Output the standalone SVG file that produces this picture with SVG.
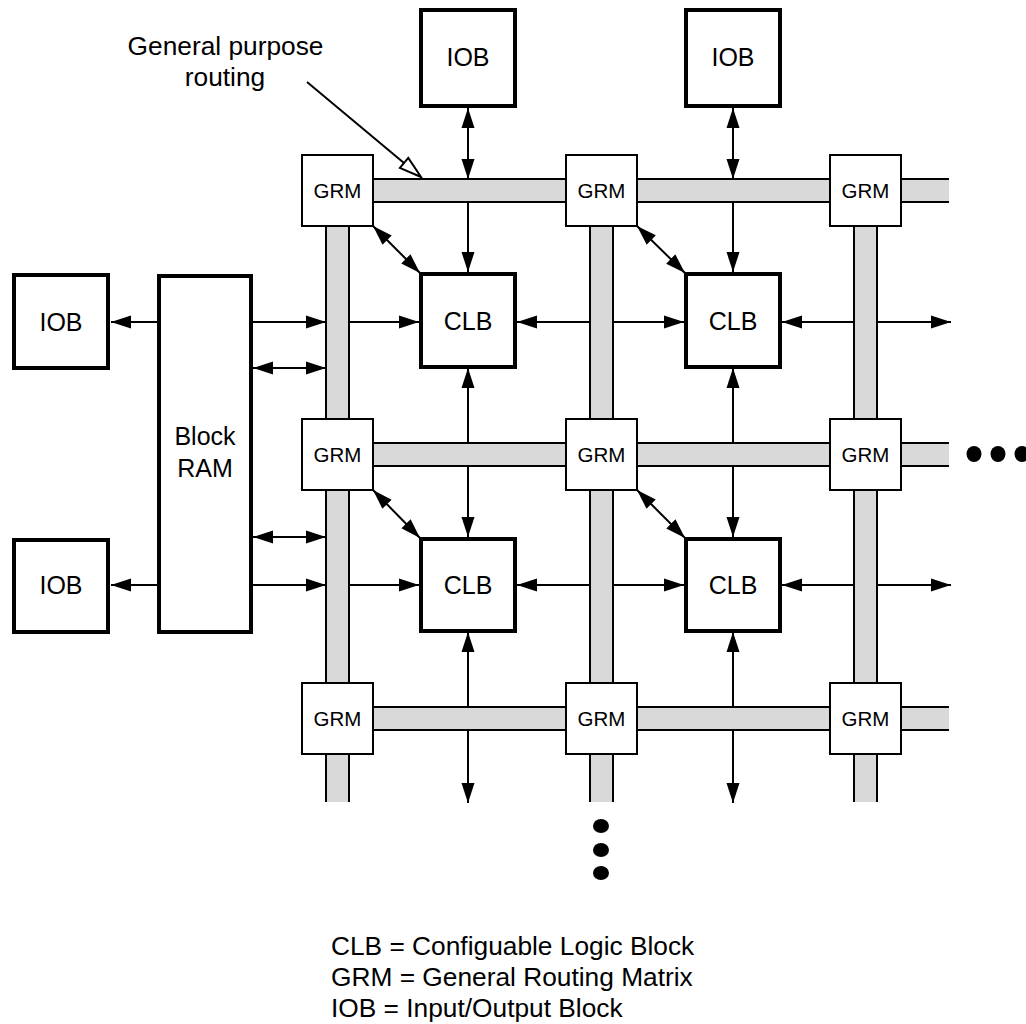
<svg xmlns="http://www.w3.org/2000/svg" width="1026" height="1024" viewBox="0 0 1026 1024">
<style>
text{font-family:"Liberation Sans",Arial,sans-serif;fill:#000}
.big{font-size:25px}
.lbl{font-size:26.3px}
.grmt{font-size:20.5px}
.thick{fill:#fff;stroke:#000;stroke-width:4}
.grm{fill:#fff;stroke:#000;stroke-width:2}
.busf{fill:#d9d9d9;stroke:none}
.busl{stroke:#000;stroke-width:2;fill:none}
.ar{stroke:#000;stroke-width:2;fill:none}
.one{marker-end:url(#ah)}
.two{marker-start:url(#ah);marker-end:url(#ah)}
</style>
<defs>
<marker id="ah" markerUnits="userSpaceOnUse" markerWidth="20" markerHeight="14" refX="20" refY="6.5" orient="auto-start-reverse" viewBox="0 0 20 13">
<path d="M0,0 L20,6.5 L0,13 Z" fill="#000"/>
</marker>
</defs>
<rect width="1026" height="1024" fill="#fff"/>

<g id="connectors">
<line class="ar two" x1="468" y1="108" x2="468" y2="179"/>
<line class="ar two" x1="733" y1="108" x2="733" y2="179"/>
<line class="ar one" x1="468" y1="202" x2="468" y2="272"/>
<line class="ar one" x1="733" y1="202" x2="733" y2="272"/>
<line class="ar two" x1="468" y1="368" x2="468" y2="537"/>
<line class="ar two" x1="733" y1="368" x2="733" y2="537"/>
<line class="ar two" x1="468" y1="632" x2="468" y2="803"/>
<line class="ar two" x1="733" y1="632" x2="733" y2="803"/>
<line class="ar one" x1="157" y1="322" x2="111" y2="322"/>
<line class="ar one" x1="253" y1="322" x2="326" y2="322"/>
<line class="ar one" x1="350" y1="322" x2="419" y2="322"/>
<line class="ar two" x1="517" y1="322" x2="684" y2="322"/>
<line class="ar two" x1="782" y1="322" x2="951" y2="322"/>
<line class="ar one" x1="157" y1="585" x2="111" y2="585"/>
<line class="ar one" x1="253" y1="585" x2="326" y2="585"/>
<line class="ar one" x1="350" y1="585" x2="419" y2="585"/>
<line class="ar two" x1="517" y1="585" x2="684" y2="585"/>
<line class="ar two" x1="782" y1="585" x2="951" y2="585"/>
<line class="ar two" x1="253" y1="368" x2="326" y2="368"/>
<line class="ar two" x1="253" y1="537" x2="326" y2="537"/>
<line class="ar two" x1="373" y1="226" x2="420" y2="273"/>
<line class="ar two" x1="637" y1="226" x2="685" y2="273"/>
<line class="ar two" x1="373" y1="490" x2="420" y2="538"/>
<line class="ar two" x1="637" y1="490" x2="685" y2="538"/>
</g>

<g id="buses">
<rect class="busf" x="337" y="179" width="612" height="23"/>
<line class="busl" x1="337" y1="179" x2="949" y2="179"/>
<line class="busl" x1="337" y1="202" x2="949" y2="202"/>
<rect class="busf" x="337" y="443" width="612" height="23"/>
<line class="busl" x1="337" y1="443" x2="949" y2="443"/>
<line class="busl" x1="337" y1="466" x2="949" y2="466"/>
<rect class="busf" x="337" y="707" width="612" height="23"/>
<line class="busl" x1="337" y1="707" x2="949" y2="707"/>
<line class="busl" x1="337" y1="730" x2="949" y2="730"/>
<rect class="busf" x="326" y="190" width="23" height="612"/>
<line class="busl" x1="326" y1="190" x2="326" y2="802"/>
<line class="busl" x1="349" y1="190" x2="349" y2="802"/>
<rect class="busf" x="590" y="190" width="23" height="612"/>
<line class="busl" x1="590" y1="190" x2="590" y2="802"/>
<line class="busl" x1="613" y1="190" x2="613" y2="802"/>
<rect class="busf" x="854" y="190" width="23" height="612"/>
<line class="busl" x1="854" y1="190" x2="854" y2="802"/>
<line class="busl" x1="877" y1="190" x2="877" y2="802"/>
</g>

<g id="grm-1-1"><rect class="grm" x="302" y="155" width="71" height="71"/><text class="grmt" x="337.5" y="198" text-anchor="middle">GRM</text></g>
<g id="grm-1-2"><rect class="grm" x="566" y="155" width="71" height="71"/><text class="grmt" x="601.5" y="198" text-anchor="middle">GRM</text></g>
<g id="grm-1-3"><rect class="grm" x="830" y="155" width="71" height="71"/><text class="grmt" x="865.5" y="198" text-anchor="middle">GRM</text></g>
<g id="grm-2-1"><rect class="grm" x="302" y="419" width="71" height="71"/><text class="grmt" x="337.5" y="462" text-anchor="middle">GRM</text></g>
<g id="grm-2-2"><rect class="grm" x="566" y="419" width="71" height="71"/><text class="grmt" x="601.5" y="462" text-anchor="middle">GRM</text></g>
<g id="grm-2-3"><rect class="grm" x="830" y="419" width="71" height="71"/><text class="grmt" x="865.5" y="462" text-anchor="middle">GRM</text></g>
<g id="grm-3-1"><rect class="grm" x="302" y="683" width="71" height="71"/><text class="grmt" x="337.5" y="726" text-anchor="middle">GRM</text></g>
<g id="grm-3-2"><rect class="grm" x="566" y="683" width="71" height="71"/><text class="grmt" x="601.5" y="726" text-anchor="middle">GRM</text></g>
<g id="grm-3-3"><rect class="grm" x="830" y="683" width="71" height="71"/><text class="grmt" x="865.5" y="726" text-anchor="middle">GRM</text></g>

<g id="clb-1-1"><rect class="thick" x="421" y="274" width="94" height="93"/><text class="big" x="468" y="330" text-anchor="middle">CLB</text></g>
<g id="clb-1-2"><rect class="thick" x="686" y="274" width="94" height="93"/><text class="big" x="733" y="330" text-anchor="middle">CLB</text></g>
<g id="clb-2-1"><rect class="thick" x="421" y="539" width="94" height="92"/><text class="big" x="468" y="594" text-anchor="middle">CLB</text></g>
<g id="clb-2-2"><rect class="thick" x="686" y="539" width="94" height="92"/><text class="big" x="733" y="594" text-anchor="middle">CLB</text></g>

<g id="iob-top-1"><rect class="thick" x="421" y="10" width="94" height="96"/><text class="big" x="468" y="66" text-anchor="middle">IOB</text></g>
<g id="iob-top-2"><rect class="thick" x="686" y="10" width="94" height="96"/><text class="big" x="733" y="66" text-anchor="middle">IOB</text></g>
<g id="iob-left-1"><rect class="thick" x="14" y="275" width="94" height="93"/><text class="big" x="61" y="331" text-anchor="middle">IOB</text></g>
<g id="iob-left-2"><rect class="thick" x="14" y="540" width="94" height="92"/><text class="big" x="61" y="594" text-anchor="middle">IOB</text></g>

<g id="block-ram"><rect class="thick" x="159" y="276" width="92" height="356"/><text class="big" x="205" y="445" text-anchor="middle">Block</text><text class="big" x="205" y="477" text-anchor="middle">RAM</text></g>

<g id="label-routing">
<text class="lbl" x="225.5" y="55" text-anchor="middle">General purpose</text>
<text class="lbl" x="225" y="86" text-anchor="middle">routing</text>
<line x1="307" y1="82" x2="404" y2="163" stroke="#000" stroke-width="2"/>
<polygon points="421,177 399.9,167.9 408.3,157.9" fill="#fff" stroke="#000" stroke-width="2"/>
</g>

<g id="ellipsis-right" fill="#000">
<ellipse cx="974" cy="454" rx="7.5" ry="8"/>
<ellipse cx="998" cy="454" rx="7.5" ry="8"/>
<ellipse cx="1022" cy="454" rx="7.5" ry="8"/>
</g>
<g id="ellipsis-bottom" fill="#000">
<ellipse cx="601" cy="826" rx="8" ry="7"/>
<ellipse cx="601" cy="850" rx="8" ry="7"/>
<ellipse cx="601" cy="873" rx="8" ry="7"/>
</g>

<g id="legend">
<text class="lbl" x="331" y="955">CLB = Configuable Logic Block</text>
<text class="lbl" x="331" y="986">GRM = General Routing Matrix</text>
<text class="lbl" x="331" y="1017">IOB = Input/Output Block</text>
</g>
</svg>
